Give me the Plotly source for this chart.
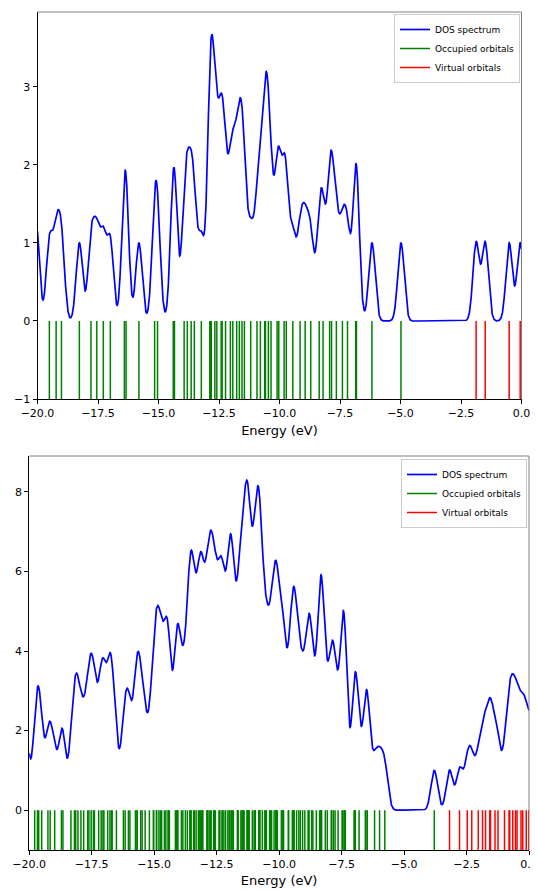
import numpy as np
import plotly.graph_objects as go

# ---------------- data (orbital energies, eV) ----------------
occ_top = [-20.24, -20.04, -19.51, -19.23, -19.01, -18.27, -17.79, -17.55, -17.28, -16.99,
           -16.41, -16.34, -15.81, -15.16, -15.04, -14.39, -14.34, -13.94, -13.81, -13.65,
           -13.52, -13.23, -12.88, -12.85, -12.82, -12.67, -12.59, -12.41, -12.37, -12.23,
           -12.03, -11.93, -11.77, -11.66, -11.55, -11.45, -11.19, -10.93, -10.79, -10.61,
           -10.58, -10.46, -10.35, -10.10, -10.03, -9.81, -9.72, -9.45, -9.15, -8.94,
           -8.71, -8.36, -8.20, -7.93, -7.85, -7.65, -7.40, -7.19, -6.85, -6.82,
           -6.18, -4.98]
virt_top = [-1.875, -1.50, -0.51, -0.054]

occ_bot = [-20.27, -20.22, -20.10, -19.78, -19.67, -19.62, -19.50, -19.25, -19.16, -18.98,
           -18.71, -18.65, -18.33, -18.19, -18.14, -18.05, -17.93, -17.82, -17.66, -17.61,
           -17.52, -17.43, -17.39, -17.22, -17.12, -17.05, -17.01, -16.86, -16.77, -16.71,
           -16.68, -16.51, -16.23, -16.16, -16.03, -15.97, -15.75, -15.69, -15.68, -15.54,
           -15.48, -15.36, -15.19, -15.03, -15.02, -14.91, -14.90, -14.81, -14.75, -14.70,
           -14.59, -14.53, -14.44, -14.43, -14.39, -14.15, -14.11, -14.07, -14.05, -13.91,
           -13.85, -13.75, -13.67, -13.57, -13.55, -13.55, -13.52, -13.42, -13.39, -13.32,
           -13.23, -13.19, -13.15, -13.10, -13.06, -13.06, -12.89, -12.87, -12.86, -12.80,
           -12.75, -12.72, -12.62, -12.61, -12.58, -12.55, -12.40, -12.39, -12.37, -12.28,
           -12.27, -12.21, -12.14, -12.05, -12.00, -11.97, -11.92, -11.89, -11.88, -11.83,
           -11.67, -11.65, -11.64, -11.53, -11.48, -11.47, -11.43, -11.40, -11.28, -11.27,
           -11.27, -11.23, -11.22, -11.20, -11.07, -11.00, -10.96, -10.96, -10.95, -10.81,
           -10.80, -10.80, -10.78, -10.77, -10.67, -10.57, -10.55, -10.51, -10.38, -10.34,
           -10.30, -10.20, -10.13, -10.12, -10.11, -10.07, -9.91, -9.89, -9.85,
           -9.82, -9.63, -9.62, -9.47, -9.44, -9.41, -9.40, -9.30, -9.21, -9.15,
           -9.06, -8.97, -8.84, -8.81, -8.81, -8.70, -8.65, -8.51, -8.38, -8.34,
           -8.32, -8.31, -8.30, -8.15, -8.07, -7.91, -7.90, -7.83, -7.76, -7.64,
           -7.48, -7.45, -7.39, -7.39, -7.35, -7.00, -6.97, -6.95, -6.80, -6.55,
           -6.48, -6.47, -6.18, -5.98, -5.77, -3.79]
virt_bot = [-3.18, -2.78, -2.47, -2.29, -2.03, -1.86, -1.74, -1.57, -1.54, -1.36,
            -1.24, -0.98, -0.80, -0.77, -0.65, -0.54, -0.48, -0.32, -0.25, -0.11,
            -0.01, 0.18, 0.26, 0.33]

SIGMA = 0.132          # Gaussian broadening (eV)
X_RANGE = [-20, 0]
TOP_YRANGE = [-1, 3.96]
BOT_YRANGE = [-1, 8.9]
x_ticks = [-20, -17.5, -15, -12.5, -10, -7.5, -5, -2.5, 0]
top_yticks = [-1, 0, 1, 2, 3]
bot_yticks = [0, 2, 4, 6, 8]

BLUE, GREEN, RED = "#0000ff", "#008000", "#ff0000"
PAGE_OFF = 8            # browser body margin
W, H = 538 - PAGE_OFF, 890 - PAGE_OFF


def fx(px):
    return (px - PAGE_OFF) / W


def fy(py):
    return 1 - (py - PAGE_OFF) / H


def spectrum(grid, energies):
    e = np.asarray(energies)[:, None]
    return np.exp(-((grid[None, :] - e) ** 2) / (2 * SIGMA ** 2)).sum(axis=0)


def sticks(energies):
    xs, ys = [], []
    for e in energies:
        xs += [e, e, None]
        ys += [-1, 0, None]
    return xs, ys


grid = np.linspace(X_RANGE[0], X_RANGE[1], 4001)

fig = go.Figure()
panels = [("x", "y", "legend", occ_top, virt_top), ("x2", "y2", "legend2", occ_bot, virt_bot)]
for xa, ya, lg, occ, virt in panels:
    allE = occ + virt
    fig.add_trace(go.Scatter(x=grid, y=spectrum(grid, allE), mode="lines",
                             line=dict(color=BLUE, width=1.7), name="DOS spectrum",
                             xaxis=xa, yaxis=ya, legend=lg))
    sx, sy = sticks(occ)
    fig.add_trace(go.Scatter(x=sx, y=sy, mode="lines", line=dict(color=GREEN, width=1.5),
                             name="Occupied orbitals", xaxis=xa, yaxis=ya, legend=lg))
    sx, sy = sticks(virt)
    fig.add_trace(go.Scatter(x=sx, y=sy, mode="lines", line=dict(color=RED, width=1.5),
                             name="Virtual orbitals", xaxis=xa, yaxis=ya, legend=lg))

axis_common = dict(showline=True, linecolor="black", linewidth=1, ticks="outside", ticklen=4,
                   tickwidth=1, tickcolor="black", showgrid=False, zeroline=False,
                   automargin=False,
                   tickfont=dict(family="DejaVu Sans", size=11, color="black"))

fig.update_layout(
    width=W, height=H, margin=dict(l=0, r=0, t=0, b=0),
    paper_bgcolor="white", plot_bgcolor="white",
    font=dict(family="DejaVu Sans", size=11, color="black"),
    xaxis=dict(domain=[fx(37.5), fx(521.5)], anchor="y", range=X_RANGE, tickvals=x_ticks,
               tickformat=".1f", title=dict(text="Energy (eV)", standoff=6), **axis_common),
    yaxis=dict(domain=[fy(399), fy(12)], anchor="x", range=TOP_YRANGE,
               tickvals=top_yticks, **axis_common),
    xaxis2=dict(domain=[fx(29.2), fx(529)], anchor="y2", range=X_RANGE, tickvals=x_ticks,
                tickformat=".1f", title=dict(text="Energy (eV)", standoff=5), **axis_common),
    yaxis2=dict(domain=[fy(850), fy(456)], anchor="x2", range=BOT_YRANGE,
                tickvals=bot_yticks, **axis_common),
    legend=dict(x=fx(520), y=fy(14), xanchor="right", yanchor="top",
                bgcolor="rgba(255,255,255,0.8)", bordercolor="#cccccc", borderwidth=1,
                font=dict(family="DejaVu Sans", size=9), tracegroupgap=0),
    legend2=dict(x=fx(527), y=fy(459), xanchor="right", yanchor="top",
                 bgcolor="rgba(255,255,255,0.8)", bordercolor="#cccccc", borderwidth=1,
                 font=dict(family="DejaVu Sans", size=9), tracegroupgap=0),
)

# grey top / right frame lines (matplotlib-style spines)
for xr, yr in [("x domain", "y domain"), ("x2 domain", "y2 domain")]:
    fig.add_shape(type="line", xref=xr, yref=yr, x0=0, x1=1, y0=1, y1=1,
                  line=dict(color="#808080", width=1))
    fig.add_shape(type="line", xref=xr, yref=yr, x0=1, x1=1, y0=0, y1=1,
                  line=dict(color="#808080", width=1))

fig.write_html("out.html")
